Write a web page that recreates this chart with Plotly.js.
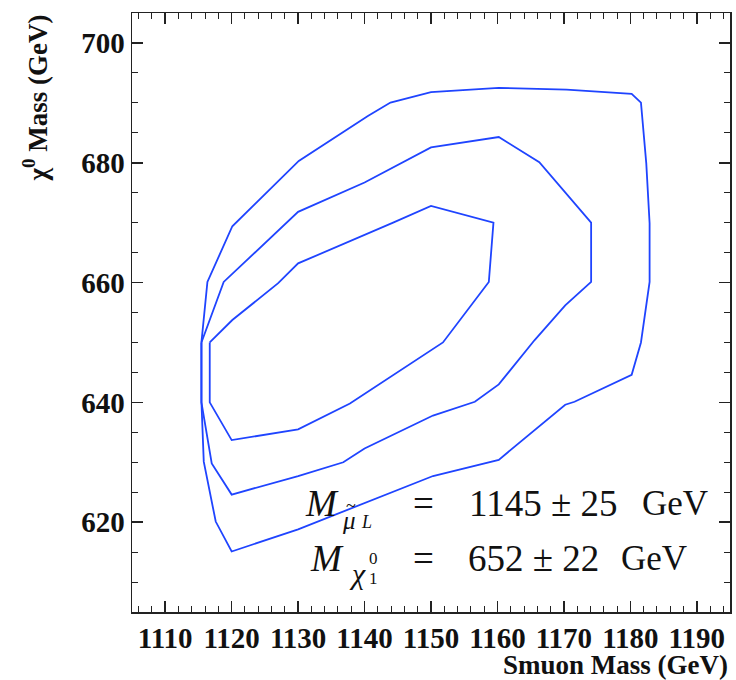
<!DOCTYPE html>
<html>
<head>
<meta charset="utf-8">
<script src="https://cdn.plot.ly/plotly-3.0.1.min.js"></script>
<style>
  html, body { margin: 0; padding: 0; background: #fff; }
  #chart { width: 736px; height: 680px; }
</style>
</head>
<body>
<div id="chart"></div>
<script>
// Likelihood contours in the (smuon mass, neutralino mass) plane, in GeV.
// Outer contour
const outerX = [1115.45, 1116.35, 1120.1, 1130.1, 1140.5, 1143.9, 1150.0, 1160.2, 1170.4, 1180.2, 1181.6,
                1182.4, 1182.9, 1182.9, 1181.6, 1180.2, 1171.6, 1170.2, 1160.2, 1150.3, 1130.0, 1120.0,
                1117.6, 1115.8, 1115.45, 1115.45];
const outerY = [650.0, 660.1, 669.4, 680.3, 687.8, 690.05, 691.8, 692.5, 692.2, 691.5, 690.05,
                679.9, 669.9, 660.1, 650.0, 644.6, 640.1, 639.6, 630.4, 627.7, 618.8, 615.1,
                620.1, 630.1, 640.1, 650.0];

// Middle contour
const middleX = [1115.45, 1118.8, 1130.0, 1140.0, 1150.0, 1160.2, 1166.3, 1174.1, 1174.1, 1170.2, 1165.6,
                 1160.2, 1156.6, 1150.3, 1140.0, 1136.8, 1130.0, 1120.0, 1117.0, 1115.45, 1115.45];
const middleY = [650.0, 660.1, 671.8, 676.7, 682.55, 684.3, 680.1, 670.0, 660.1, 656.2, 650.4,
                 643.0, 640.1, 637.8, 632.3, 630.0, 627.7, 624.6, 629.8, 640.0, 650.0];

// Inner contour
const innerX = [1116.7, 1120.1, 1127.0, 1130.0, 1144.3, 1150.0, 1159.4, 1158.7, 1151.8, 1137.8, 1130.0,
                1120.0, 1116.7, 1116.7];
const innerY = [650.0, 653.75, 659.9, 663.2, 670.0, 672.8, 670.0, 660.1, 650.0, 639.8, 635.5,
                633.7, 640.0, 650.0];

const contourColor = '#1f44ff';

function contour(x, y) {
  return { x: x, y: y, type: 'scatter', mode: 'lines',
           line: { color: contourColor, width: 1.8 }, hoverinfo: 'skip', showlegend: false };
}

const serif = 'Liberation Serif, Times New Roman, serif';
const tickFont = { family: serif, size: 29, color: '#111', weight: 'bold' };
const axisCommon = {
  showgrid: false, zeroline: false,
  showline: true, linecolor: '#222', linewidth: 1.5, mirror: 'ticks',
  ticks: 'inside', ticklen: 11, tickwidth: 1.5, tickcolor: '#222',
  tickfont: tickFont
};

const layout = {
  width: 736, height: 680,
  margin: { l: 132, r: 6, t: 13, b: 68 },
  paper_bgcolor: '#fff', plot_bgcolor: '#fff',
  xaxis: Object.assign({}, axisCommon, {
    range: [1105, 1195], tick0: 1110, dtick: 10,
    minor: { dtick: 2, ticks: 'inside', ticklen: 6, tickwidth: 1, tickcolor: '#222', showgrid: false }
  }),
  yaxis: Object.assign({}, axisCommon, {
    range: [605, 705], tick0: 620, dtick: 20,
    minor: { dtick: 5, ticks: 'inside', ticklen: 6, tickwidth: 1, tickcolor: '#222', showgrid: false }
  }),
  annotations: []
};

const titleFont = { family: serif, size: 27, color: '#111' };

function px2x(px) { return (px - 132) / 598; }
function px2y(py) { return (612 - py) / 599; }

function ann(text, px, py, size, xanchor) {
  return {
    text: text, xref: 'paper', yref: 'paper', x: px2x(px), y: px2y(py),
    xanchor: xanchor, yanchor: 'middle', showarrow: false,
    font: { family: serif, size: size, color: '#111' }
  };
}

// Axis titles
layout.annotations.push({
  text: '<b>Smuon Mass (GeV)</b>', xref: 'paper', yref: 'paper', x: 1, y: px2y(665),
  xanchor: 'right', yanchor: 'middle', showarrow: false, font: titleFont
});
layout.annotations.push({
  text: '<b>χ<sup>0</sup> Mass (GeV)</b>', xref: 'paper', yref: 'paper', x: px2x(35), y: px2y(13),
  xanchor: 'center', yanchor: 'top', textangle: -90, showarrow: false, font: titleFont
});

// Fit results
const fitValues = ['1145 ± 25', '652 ± 22'];
const fitUnit = 'GeV';
const mSize = 37;
// row 1: smuon mass
layout.annotations.push(ann('<i>M</i>', 322, 503, mSize, 'center'));
layout.annotations.push(ann('<i>μ</i>', 349, 520, 25, 'center'));
layout.annotations.push(ann('~', 351, 506, 18, 'center'));
layout.annotations.push(ann('<i>L</i>', 366, 522, 18, 'center'));
layout.annotations.push(ann('=', 423, 503, mSize, 'center'));
layout.annotations.push(ann(fitValues[0], 467, 503, mSize, 'left'));
layout.annotations.push(ann(fitUnit, 640, 503, 35, 'left'));
// row 2: neutralino mass
layout.annotations.push(ann('<i>M</i>', 327, 558, mSize, 'center'));
layout.annotations.push(ann('<i>χ</i>', 357, 573, 30, 'center'));
layout.annotations.push(ann('0', 373, 558, 17, 'center'));
layout.annotations.push(ann('1', 373, 578, 17, 'center'));
layout.annotations.push(ann('=', 423, 558, mSize, 'center'));
layout.annotations.push(ann(fitValues[1], 466, 558, mSize, 'left'));
layout.annotations.push(ann(fitUnit, 619, 558, 35, 'left'));

Plotly.newPlot('chart', [contour(outerX, outerY), contour(middleX, middleY), contour(innerX, innerY)],
  layout, { staticPlot: true, displayModeBar: false });
</script>
</body>
</html>
